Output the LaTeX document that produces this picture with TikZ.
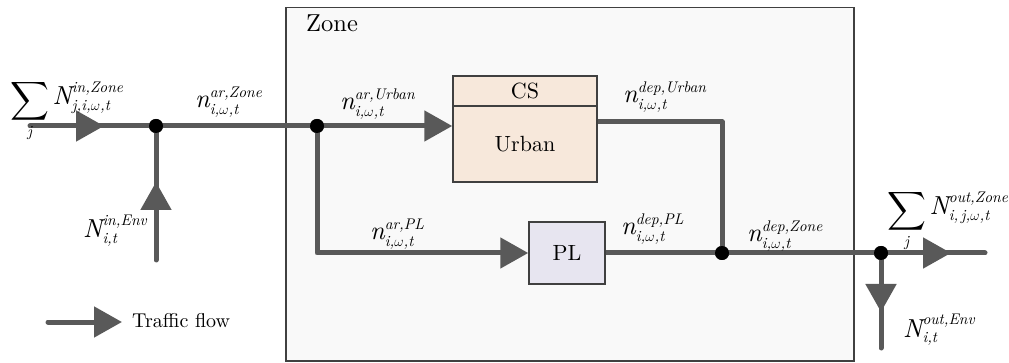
\documentclass[tikz,border=0pt]{standalone}
\usepackage{amsmath}
\usepackage{fontspec}
% text-weight design of Latin Modern at every size
\setmainfont{lmroman10-regular.otf}[ItalicFont=lmroman10-italic.otf, BoldFont=lmroman10-bold.otf]
\usetikzlibrary{arrows.meta,decorations.markings}

\definecolor{flowgray}{RGB}{89,89,89}
\definecolor{edgegray}{RGB}{64,64,64}
\definecolor{zonefill}{RGB}{249,249,249}
\definecolor{csfill}{RGB}{247,232,219}
\definecolor{plfill}{RGB}{231,229,240}

% italic variable set in the text font
\newcommand\vr[1]{\text{\itshape #1}}
% larger italic base letter
\newcommand\bvr[1]{\text{\fontsize{26}{30}\selectfont\itshape #1}}
\newcommand\om{$\omega$}
% flow variable: base, superscript, subscript
\newcommand\fv[3]{$\bvr{#1}^{\vr{#2}}_{\vr{#3}}$}
% enlarged summation sign over j
\newcommand\bigsum{\mathop{\raisebox{-3pt}{\scalebox{1.3}{$\displaystyle\sum$}}}\limits_{\vr{j}}}
% summed flow variable over j
\newcommand\sumfv[3]{$\displaystyle\bigsum\bvr{#1}^{\vr{#2}}_{\vr{#3}}$}

\tikzset{
  tri/.tip={Triangle[length=28pt,width=30pt]},
  flow/.style={color=flowgray, line width=5pt, line join=round, line cap=round},
  midarrow/.style={postaction={decorate},
    decoration={markings, mark=at position #1 with {\arrow{tri}}}},
  dot/.style={circle, fill=black, inner sep=0pt, minimum size=14pt},
  box/.style={draw=edgegray, line width=1.5pt, inner sep=0pt, font=\fontsize{22}{26}\selectfont},
  lbl/.style={anchor=base west, inner sep=0pt},
}

\begin{document}
\begin{tikzpicture}[x=1pt, y=-1pt, font=\fontsize{22}{26}\selectfont]
\useasboundingbox (0,0) rectangle (1009,363);

% zone frame
\node[box, fill=zonefill, anchor=north west, minimum width=568pt, minimum height=353pt] (zone) at (285,7) {};
\node[lbl, font=\fontsize{24.5}{29}\selectfont] (zonelabel) at (306,32) {Zone};

% junctions
\node[dot] (d1) at (156,126) {};
\node[dot] (d2) at (317,126) {};
\node[dot] (d3) at (722,253) {};
\node[dot] (d4) at (881,253) {};

% stations
\node[box, fill=csfill, minimum width=144pt, minimum height=30pt] (csTop) at (525,91) {CS};
\node[box, fill=csfill, minimum width=144pt, minimum height=76pt] (csBody) at (525,144) {Urban};
\node[box, fill=plfill, minimum width=76pt, minimum height=62pt] (pl) at (567,253) {PL};

% free ends of the flows
\coordinate (inL) at (30,126);
\coordinate (inB) at (156,260);
\coordinate (tc) at (722,122);
\coordinate (outR) at (985,253);
\coordinate (outB) at (881,348);
\coordinate (lg) at (48,322);
\coordinate (lgtip) at (122,322);

% flows
\draw[flow, midarrow=74pt] (inL) -- (d1.center);
\draw[flow, midarrow=78pt] (inB) -- (d1.center);
\draw[flow] (d1.center) -- (d2.center);
\draw[flow, -{tri}] (d2.center) -- (d2.center -| csBody.west);
\draw[flow, -{tri}] (d2.center) |- (pl.west);
\draw[flow] (pl.east) -- (d3.center);
\draw[flow] (csBody.east |- tc) -- (tc) -- (d3.center);
\draw[flow] (d3.center) -- (d4.center);
\draw[flow, midarrow=70pt] (d4.center) -- (outR);
\draw[flow, midarrow=59pt] (d4.center) -- (outB);
\draw[flow, -{tri}] (lg) -- (lgtip);

% redraw boxes and dots over the flow ends
\node[box, fill=csfill, minimum width=144pt, minimum height=30pt] at (csTop) {CS};
\node[box, fill=csfill, minimum width=144pt, minimum height=76pt] at (csBody) {Urban};
\node[box, fill=plfill, minimum width=76pt, minimum height=62pt] at (pl) {PL};
\foreach \d in {d1,d2,d3,d4} \node[dot] at (\d) {};

% legend
\node[lbl, font=\fontsize{20}{24}\selectfont] (lgtext) at (132,327) {Traffic flow};

% flow labels
\node[lbl] (lInZone) at (10,105) {\sumfv{N}{in,Zone}{j,i,\om,t}};
\node[lbl] (lArZone) at (195,108) {\fv{n}{ar,Zone}{i,\om,t}};
\node[lbl] (lInEnv) at (83,238) {\fv{N}{in,Env}{i,t}};
\node[lbl] (lArUrban) at (340,110) {\fv{n}{ar,Urban}{i,\om,t}};
\node[lbl] (lDepUrban) at (623,103) {\fv{n}{dep,Urban}{i,\om,t}};
\node[lbl] (lArPL) at (370,240) {\fv{n}{ar,PL}{i,\om,t}};
\node[lbl] (lDepPL) at (621,235) {\fv{n}{dep,PL}{i,\om,t}};
\node[lbl] (lDepZone) at (747,242) {\fv{n}{dep,Zone}{i,\om,t}};
\node[lbl] (lOutZone) at (887,215) {\sumfv{N}{out,Zone}{i,\,j,\om,t}};
\node[lbl] (lOutEnv) at (903,337) {\fv{N}{out,Env}{i,t}};
\end{tikzpicture}
\end{document}
